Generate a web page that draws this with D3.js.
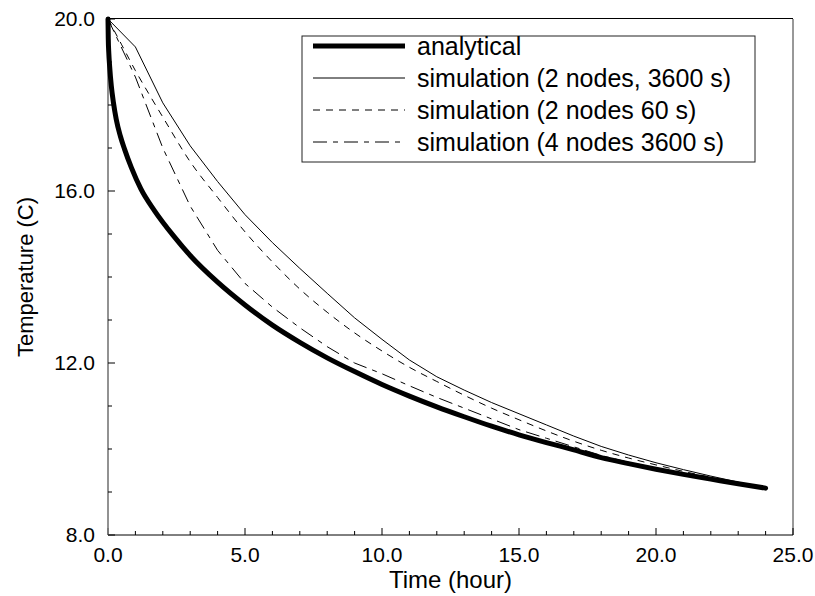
<!DOCTYPE html>
<html>
<head>
<meta charset="utf-8">
<script src="https://cdn.jsdelivr.net/npm/d3@7"></script>
<style>
  body { margin: 0; background: #fff; }
  text { font-family: "Liberation Sans", Arial, sans-serif; fill: #000; }
</style>
</head>
<body>
<div id="chart"></div>
<script>
const width = 815;
const height = 596;

// plot box in pixels
const margin = { top: 19, right: 22, bottom: 61, left: 108 };

// analytical solution, hours -> deg C
const analyticalTime = [0, 0.01, 0.03, 0.06, 0.12, 0.2, 0.3, 0.45, 0.6, 0.85, 1.2, 1.7, 2.4, 3, 4, 5, 6, 7, 8, 9, 10, 11, 12, 13, 14, 15, 16, 17, 18, 19, 20, 21, 22, 23, 24];
const analyticalTemp = [20, 19.55, 19.2, 18.9, 18.45, 18.05, 17.67, 17.28, 16.98, 16.55, 16.05, 15.54, 14.95, 14.5, 13.88, 13.35, 12.88, 12.48, 12.12, 11.8, 11.5, 11.23, 10.98, 10.75, 10.53, 10.33, 10.15, 9.98, 9.8, 9.66, 9.53, 9.41, 9.3, 9.19, 9.09];

// hourly output of the simulations
const hours = d3.range(0, 25);
const sim2n3600 = [20, 19.35, 18.05, 17.05, 16.22, 15.45, 14.8, 14.2, 13.62, 13.05, 12.55, 12.07, 11.68, 11.37, 11.08, 10.82, 10.56, 10.3, 10.06, 9.86, 9.68, 9.52, 9.37, 9.23, 9.09];
const sim4n3600 = [20, 18.65, 17.0, 15.65, 14.62, 13.85, 13.3, 12.82, 12.38, 12.0, 11.75, 11.47, 11.2, 10.95, 10.7, 10.45, 10.25, 10.05, 9.85, 9.69, 9.55, 9.42, 9.3, 9.19, 9.09];

// 60 s step - dense enough to look smooth
const sim60Time = [0, 0.5, 1, 1.5, 2, 3, 4, 5, 6, 7, 8, 9, 10, 11, 12, 13, 14, 15, 16, 17, 18, 19, 20, 21, 22, 23, 24];
const sim2n60 = [20, 19.4, 18.8, 18.25, 17.72, 16.68, 15.85, 15.05, 14.35, 13.72, 13.18, 12.7, 12.28, 11.9, 11.57, 11.25, 10.95, 10.68, 10.42, 10.18, 9.97, 9.79, 9.63, 9.48, 9.34, 9.21, 9.09];

const xTicks = [0, 5, 10, 15, 20, 25];
const yTicks = [8, 12, 16, 20];

const legendLabels = ["analytical", "simulation (2 nodes, 3600 s)", "simulation (2 nodes 60 s)", "simulation (4 nodes 3600 s)"];

const series = [
  { x: analyticalTime, y: analyticalTemp, width: 5, dash: null, curve: d3.curveMonotoneX },
  { x: hours, y: sim2n3600, width: 1, dash: null, curve: d3.curveLinear },
  { x: sim60Time, y: sim2n60, width: 1, dash: "7,6", curve: d3.curveMonotoneX },
  { x: hours, y: sim4n3600, width: 1, dash: "14,6,5,6", curve: d3.curveLinear }
];

const svg = d3.select("#chart")
  .append("svg")
  .attr("width", width)
  .attr("height", height)

const x = d3.scaleLinear()
  .domain([0, 25])
  .range([margin.left, width - margin.right])

const y = d3.scaleLinear()
  .domain([8, 20])
  .range([height - margin.bottom, margin.top])

// frame top and right
svg.append("line")
  .attr("x1", x(0)).attr("x2", x(25))
  .attr("y1", y(20) - 0.5).attr("y2", y(20) - 0.5)
  .attr("stroke", "#000")
svg.append("line")
  .attr("x1", x(25)).attr("x2", x(25))
  .attr("y1", y(20)).attr("y2", y(8))
  .attr("stroke", "#333")

// ticks point into the plot, minor every 1 unit
const xAxis = svg.append("g")
  .attr("transform", `translate(0,${y(8)})`)
xAxis.append("line")
  .attr("x1", x(0)).attr("x2", x(25))
  .attr("stroke", "#000")
xAxis.selectAll(".minor")
  .data(d3.range(0, 26))
  .join("line")
    .attr("x1", d => x(d)).attr("x2", d => x(d))
    .attr("y1", 0)
    .attr("y2", d => d % 5 === 0 ? -7 : -4)
    .attr("stroke", "#000")
xAxis.selectAll(".lbl")
  .data(xTicks)
  .join("text")
    .attr("x", d => x(d))
    .attr("y", 27)
    .attr("text-anchor", "middle")
    .style("font-size", "21px")
    .text(d => d.toFixed(1))

const yAxis = svg.append("g")
  .attr("transform", `translate(${x(0)},0)`)
yAxis.append("line")
  .attr("y1", y(8)).attr("y2", y(20))
  .attr("stroke", "#777")
  .attr("stroke-width", 1.6)
yAxis.selectAll(".minor")
  .data(d3.range(8, 21))
  .join("line")
    .attr("y1", d => y(d)).attr("y2", d => y(d))
    .attr("x1", 0)
    .attr("x2", d => d % 4 === 0 ? 7 : 4)
    .attr("stroke", "#000")
yAxis.selectAll(".lbl")
  .data(yTicks)
  .join("text")
    .attr("x", -13)
    .attr("y", d => y(d))
    .attr("dy", "0.35em")
    .attr("text-anchor", "end")
    .style("font-size", "21px")
    .text(d => d.toFixed(1))

svg.append("text")
  .attr("x", (x(0) + x(25)) / 2)
  .attr("y", 588)
  .attr("text-anchor", "middle")
  .style("font-size", "24px")
  .text("Time (hour)")

svg.append("text")
  .attr("transform", `translate(33,${(y(8) + y(20)) / 2}) rotate(-90)`)
  .attr("text-anchor", "middle")
  .style("font-size", "22px")
  .text("Temperature (C)")

// curves
series.forEach(s => {
  const line = d3.line()
    .x((d, i) => x(s.x[i]))
    .y(d => y(d))
    .curve(s.curve)
  svg.append("path")
    .datum(s.y)
    .attr("d", line)
    .attr("fill", "none")
    .attr("stroke", "#000")
    .attr("stroke-width", s.width)
    .attr("stroke-linecap", s.width > 1 ? "round" : "butt")
    .attr("stroke-dasharray", s.dash)
})

// legend
const legend = svg.append("g")
legend.append("rect")
  .attr("x", 302).attr("y", 36)
  .attr("width", 453).attr("height", 126)
  .attr("fill", "#fff")
  .attr("stroke", "#222")

legend.selectAll(".item")
  .data(series)
  .join("g")
    .attr("transform", (d, i) => `translate(313,${46 + i * 32})`)
    .each(function(d, i) {
      const g = d3.select(this)
      g.append("line")
        .attr("x1", 0).attr("x2", 92)
        .attr("stroke", "#000")
        .attr("stroke-width", d.width)
        .attr("stroke-dasharray", d.dash)
      g.append("text")
        .attr("x", 104)
        .attr("dy", "0.35em")
        .style("font-size", "25px")
        .text(legendLabels[i])
    })
</script>
</body>
</html>
